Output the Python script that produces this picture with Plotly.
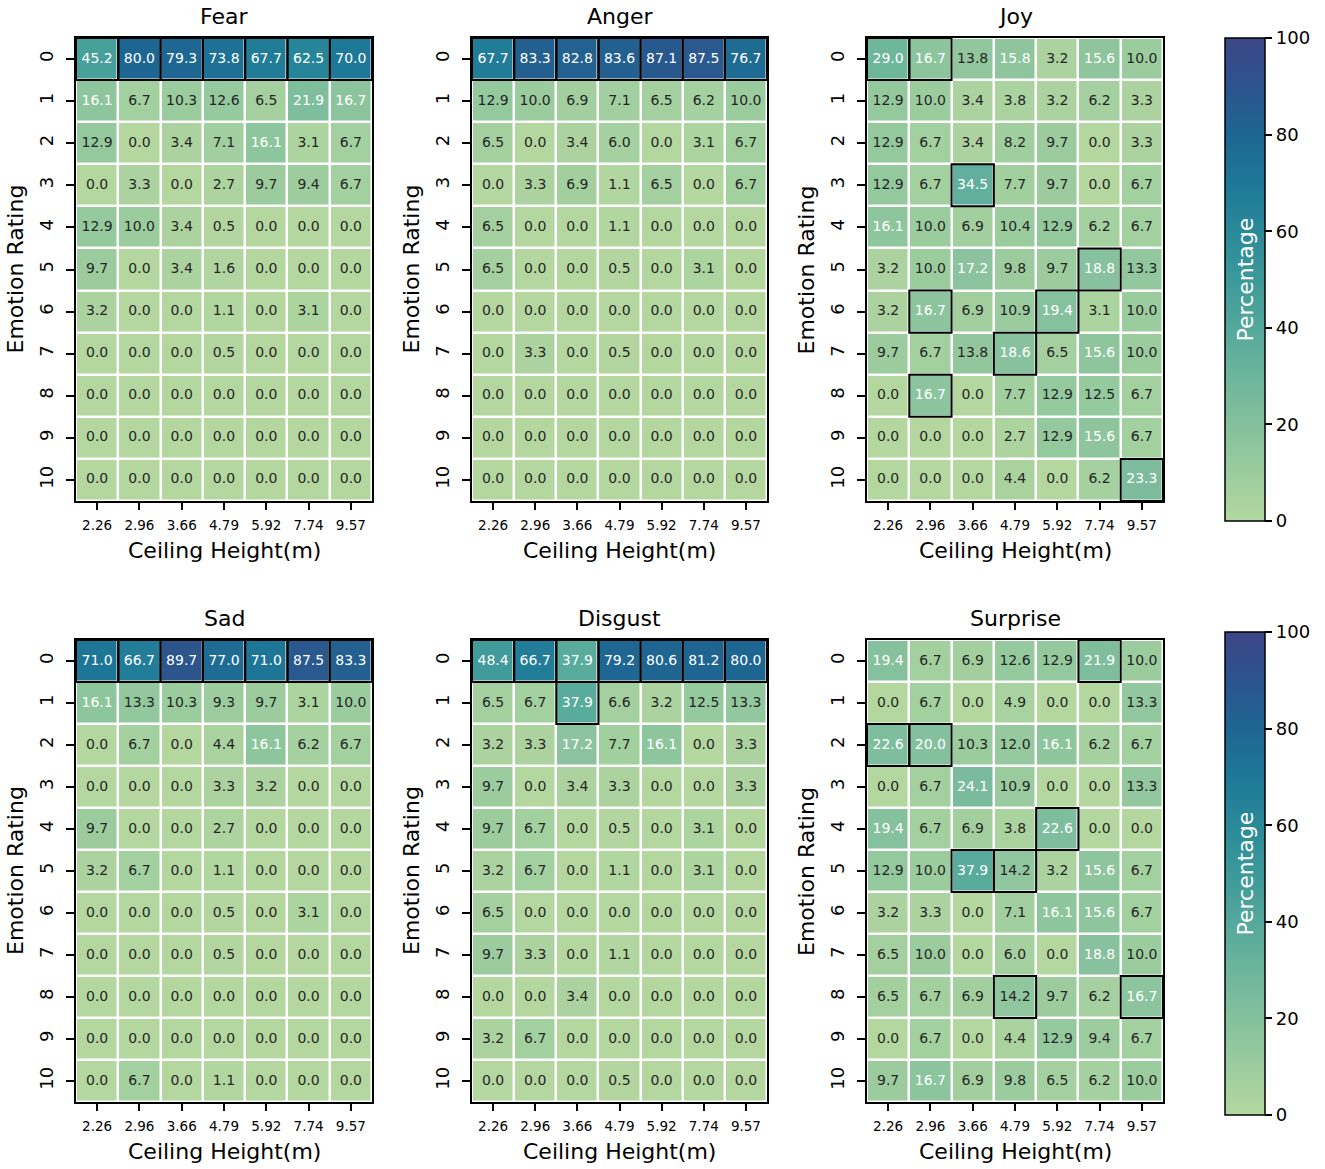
import plotly.graph_objects as go

heights = ["2.26", "2.96", "3.66", "4.79", "5.92", "7.74", "9.57"]
ratings = ["0", "1", "2", "3", "4", "5", "6", "7", "8", "9", "10"]

fear = [
    [45.2, 80.0, 79.3, 73.8, 67.7, 62.5, 70.0],
    [16.1, 6.7, 10.3, 12.6, 6.5, 21.9, 16.7],
    [12.9, 0.0, 3.4, 7.1, 16.1, 3.1, 6.7],
    [0.0, 3.3, 0.0, 2.7, 9.7, 9.4, 6.7],
    [12.9, 10.0, 3.4, 0.5, 0.0, 0.0, 0.0],
    [9.7, 0.0, 3.4, 1.6, 0.0, 0.0, 0.0],
    [3.2, 0.0, 0.0, 1.1, 0.0, 3.1, 0.0],
    [0.0, 0.0, 0.0, 0.5, 0.0, 0.0, 0.0],
    [0.0, 0.0, 0.0, 0.0, 0.0, 0.0, 0.0],
    [0.0, 0.0, 0.0, 0.0, 0.0, 0.0, 0.0],
    [0.0, 0.0, 0.0, 0.0, 0.0, 0.0, 0.0],
]
anger = [
    [67.7, 83.3, 82.8, 83.6, 87.1, 87.5, 76.7],
    [12.9, 10.0, 6.9, 7.1, 6.5, 6.2, 10.0],
    [6.5, 0.0, 3.4, 6.0, 0.0, 3.1, 6.7],
    [0.0, 3.3, 6.9, 1.1, 6.5, 0.0, 6.7],
    [6.5, 0.0, 0.0, 1.1, 0.0, 0.0, 0.0],
    [6.5, 0.0, 0.0, 0.5, 0.0, 3.1, 0.0],
    [0.0, 0.0, 0.0, 0.0, 0.0, 0.0, 0.0],
    [0.0, 3.3, 0.0, 0.5, 0.0, 0.0, 0.0],
    [0.0, 0.0, 0.0, 0.0, 0.0, 0.0, 0.0],
    [0.0, 0.0, 0.0, 0.0, 0.0, 0.0, 0.0],
    [0.0, 0.0, 0.0, 0.0, 0.0, 0.0, 0.0],
]
joy = [
    [29.0, 16.7, 13.8, 15.8, 3.2, 15.6, 10.0],
    [12.9, 10.0, 3.4, 3.8, 3.2, 6.2, 3.3],
    [12.9, 6.7, 3.4, 8.2, 9.7, 0.0, 3.3],
    [12.9, 6.7, 34.5, 7.7, 9.7, 0.0, 6.7],
    [16.1, 10.0, 6.9, 10.4, 12.9, 6.2, 6.7],
    [3.2, 10.0, 17.2, 9.8, 9.7, 18.8, 13.3],
    [3.2, 16.7, 6.9, 10.9, 19.4, 3.1, 10.0],
    [9.7, 6.7, 13.8, 18.6, 6.5, 15.6, 10.0],
    [0.0, 16.7, 0.0, 7.7, 12.9, 12.5, 6.7],
    [0.0, 0.0, 0.0, 2.7, 12.9, 15.6, 6.7],
    [0.0, 0.0, 0.0, 4.4, 0.0, 6.2, 23.3],
]
sad = [
    [71.0, 66.7, 89.7, 77.0, 71.0, 87.5, 83.3],
    [16.1, 13.3, 10.3, 9.3, 9.7, 3.1, 10.0],
    [0.0, 6.7, 0.0, 4.4, 16.1, 6.2, 6.7],
    [0.0, 0.0, 0.0, 3.3, 3.2, 0.0, 0.0],
    [9.7, 0.0, 0.0, 2.7, 0.0, 0.0, 0.0],
    [3.2, 6.7, 0.0, 1.1, 0.0, 0.0, 0.0],
    [0.0, 0.0, 0.0, 0.5, 0.0, 3.1, 0.0],
    [0.0, 0.0, 0.0, 0.5, 0.0, 0.0, 0.0],
    [0.0, 0.0, 0.0, 0.0, 0.0, 0.0, 0.0],
    [0.0, 0.0, 0.0, 0.0, 0.0, 0.0, 0.0],
    [0.0, 6.7, 0.0, 1.1, 0.0, 0.0, 0.0],
]
disgust = [
    [48.4, 66.7, 37.9, 79.2, 80.6, 81.2, 80.0],
    [6.5, 6.7, 37.9, 6.6, 3.2, 12.5, 13.3],
    [3.2, 3.3, 17.2, 7.7, 16.1, 0.0, 3.3],
    [9.7, 0.0, 3.4, 3.3, 0.0, 0.0, 3.3],
    [9.7, 6.7, 0.0, 0.5, 0.0, 3.1, 0.0],
    [3.2, 6.7, 0.0, 1.1, 0.0, 3.1, 0.0],
    [6.5, 0.0, 0.0, 0.0, 0.0, 0.0, 0.0],
    [9.7, 3.3, 0.0, 1.1, 0.0, 0.0, 0.0],
    [0.0, 0.0, 3.4, 0.0, 0.0, 0.0, 0.0],
    [3.2, 6.7, 0.0, 0.0, 0.0, 0.0, 0.0],
    [0.0, 0.0, 0.0, 0.5, 0.0, 0.0, 0.0],
]
surprise = [
    [19.4, 6.7, 6.9, 12.6, 12.9, 21.9, 10.0],
    [0.0, 6.7, 0.0, 4.9, 0.0, 0.0, 13.3],
    [22.6, 20.0, 10.3, 12.0, 16.1, 6.2, 6.7],
    [0.0, 6.7, 24.1, 10.9, 0.0, 0.0, 13.3],
    [19.4, 6.7, 6.9, 3.8, 22.6, 0.0, 0.0],
    [12.9, 10.0, 37.9, 14.2, 3.2, 15.6, 6.7],
    [3.2, 3.3, 0.0, 7.1, 16.1, 15.6, 6.7],
    [6.5, 10.0, 0.0, 6.0, 0.0, 18.8, 10.0],
    [6.5, 6.7, 6.9, 14.2, 9.7, 6.2, 16.7],
    [0.0, 6.7, 0.0, 4.4, 12.9, 9.4, 6.7],
    [9.7, 16.7, 6.9, 9.8, 6.5, 6.2, 10.0],
]

panels = [
    ("Fear", fear), ("Anger", anger), ("Joy", joy),
    ("Sad", sad), ("Disgust", disgust), ("Surprise", surprise),
]

W, H = 1325, 1169
FONT = "DejaVu Sans"
col_px = [(76, 372), (472, 767), (867, 1163)]
row_px = [(38, 501), (640, 1102)]
cbar_px = [(38, 521), (632, 1115)]

colorscale = [
    [0.00, "#b4d7a0"], [0.10, "#9bcc9e"], [0.20, "#84c09d"],
    [0.30, "#6cb59c"], [0.40, "#54a89b"], [0.50, "#3c999a"],
    [0.60, "#2a8999"], [0.70, "#1e7897"], [0.80, "#1e6692"],
    [0.90, "#2c548c"], [1.00, "#3c4687"],
]

def py(p):
    return 1 - p / H

def px(p):
    return p / W

fig = go.Figure()
annotations = []
shapes = []

for k, (name, data) in enumerate(panels):
    r, c = divmod(k, 3)
    ax = "" if k == 0 else str(k + 1)
    xa, ya = "x" + ax, "y" + ax
    cax = "coloraxis" if r == 0 else "coloraxis2"
    nrow, ncol = len(data), len(data[0])
    xs = list(range(ncol))
    ys = list(range(nrow))
    fig.add_trace(go.Heatmap(
        z=data, x=xs, y=ys, coloraxis=cax, xgap=2.5, ygap=2.5,
        hoverinfo="skip", xaxis=xa, yaxis=ya,
    ))
    tx, ty, tt, tc = [], [], [], []
    for i in range(nrow):
        for j in range(ncol):
            v = data[i][j]
            tx.append(j)
            ty.append(i)
            tt.append(f"{v:.1f}")
            tc.append("white" if v > 15 else "#262626")
    fig.add_trace(go.Scatter(
        x=tx, y=ty, text=tt, mode="text",
        textfont=dict(family=FONT, size=14, color=tc),
        hoverinfo="skip", showlegend=False, xaxis=xa, yaxis=ya,
    ))
    # highlight column maxima
    for j in range(ncol):
        col = [data[i][j] for i in range(nrow)]
        m = max(col)
        for i in range(nrow):
            if col[i] == m:
                shapes.append(dict(
                    type="rect", xref=xa, yref=ya,
                    x0=j - 0.5, x1=j + 0.5, y0=i - 0.5, y1=i + 0.5,
                    line=dict(color="black", width=2), layer="above",
                ))
    x0, x1 = col_px[c]
    y0, y1 = row_px[r]
    fig.update_layout(**{
        ("xaxis" + ax): dict(
            domain=[px(x0), px(x1)], anchor=ya, range=[-0.5, ncol - 0.5],
            tickmode="array", tickvals=xs, ticktext=heights,
            ticks="outside", ticklen=7, tickwidth=1.5, tickcolor="black",
            tickfont=dict(family=FONT, size=13.5, color="black"),
            showline=True, mirror=True, linewidth=2, linecolor="black",
            showgrid=False, zeroline=False, fixedrange=True,
            ticklabelstandoff=4,
        ),
        ("yaxis" + ax): dict(
            domain=[py(y1), py(y0)], anchor=xa, range=[nrow - 0.5, -0.5],
            tickmode="array", tickvals=ys, ticktext=ratings,
            ticks="outside", ticklen=8, tickwidth=1.5, tickcolor="black",
            tickangle=-90,
            tickfont=dict(family=FONT, size=18, color="black"),
            showline=True, mirror=True, linewidth=2, linecolor="black",
            showgrid=False, zeroline=False, fixedrange=True,
            ticklabelstandoff=6,
        ),
    })
    xc = (x0 + x1) / 2
    yc = (y0 + y1) / 2
    annotations.append(dict(
        text=name, x=px(xc), y=py(y0 - 22), xref="paper", yref="paper",
        showarrow=False, xanchor="center", yanchor="middle",
        font=dict(family=FONT, size=22, color="black"),
    ))
    annotations.append(dict(
        text="Ceiling Height(m)", x=px(xc), y=py(y1 + 49), xref="paper",
        yref="paper", showarrow=False, xanchor="center", yanchor="middle",
        font=dict(family=FONT, size=22, color="black"),
    ))
    annotations.append(dict(
        text="Emotion Rating", x=px(x0 - 61), y=py(yc), xref="paper",
        yref="paper", showarrow=False, xanchor="center", yanchor="middle",
        textangle=-90, font=dict(family=FONT, size=22, color="black"),
    ))

def cbar(p):
    t, b = p
    return dict(
        x=px(1225), xanchor="left", xpad=0, thickness=40,
        thicknessmode="pixels", len=(b - t) / H, lenmode="fraction",
        y=py((t + b) / 2), yanchor="middle", ypad=0,
        outlinewidth=1.5, outlinecolor="black",
        tickmode="array", tickvals=[0, 20, 40, 60, 80, 100],
        ticks="outside", ticklen=7, tickwidth=1.5, tickcolor="black",
        tickfont=dict(family=FONT, size=18, color="black"),
    )

for p in cbar_px:
    annotations.append(dict(
        text="Percentage", x=px(1245), y=py((p[0] + p[1]) / 2),
        xref="paper", yref="paper", showarrow=False, xanchor="center",
        yanchor="middle", textangle=-90,
        font=dict(family=FONT, size=22, color="white"),
    ))

fig.update_layout(
    width=W, height=H,
    margin=dict(l=0, r=0, t=0, b=0, autoexpand=False),
    paper_bgcolor="white", plot_bgcolor="white",
    coloraxis=dict(colorscale=colorscale, cmin=0, cmax=100,
                   colorbar=cbar(cbar_px[0])),
    coloraxis2=dict(colorscale=colorscale, cmin=0, cmax=100,
                    colorbar=cbar(cbar_px[1])),
    annotations=annotations, shapes=shapes,
    showlegend=False,
    font=dict(family=FONT, color="black"),
)

fig.write_html(
    "out.html",
    config={"displayModeBar": False},
    post_script="document.body.style.margin='0';document.body.style.overflow='hidden';",
)
